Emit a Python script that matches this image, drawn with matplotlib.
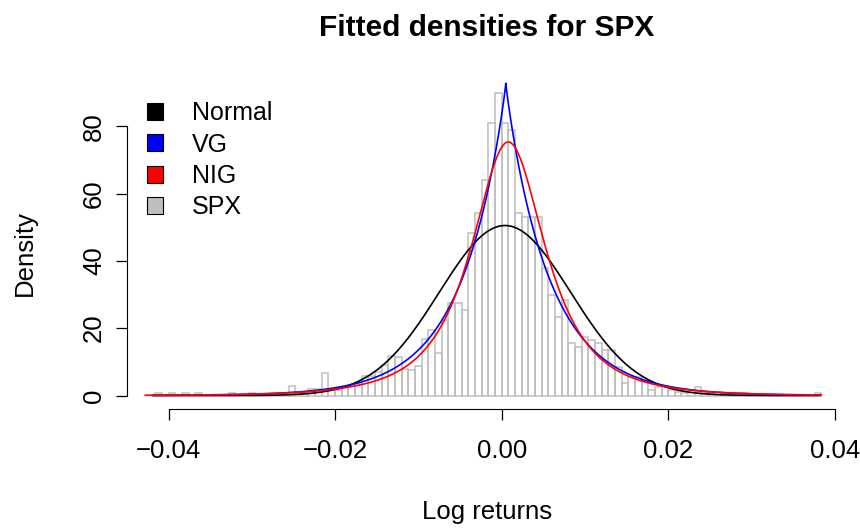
import math
import numpy as np
import matplotlib.pyplot as plt
from matplotlib.patches import Patch

plt.rcParams['font.family'] = ['Liberation Sans', 'DejaVu Sans']

# histogram of SPX log returns: breaks start and width, density per bin
break_lo = -0.0416
bin_w = 0.0008
dens = [0.8, 0, 0.8, 0, 0.8, 0, 0.8, 0, 0, 0,
        0, 0.8, 0, 0, 0.8, 0, 0, 0, 0, 0,
        2.8, 0.8, 0.8, 2.0, 2.0, 6.8, 1.5, 1.5, 2.6, 2.8,
        3.4, 5.8, 5.8, 7.0, 9.0, 11.8, 11.5, 7.8, 7.6, 8.8,
        16.7, 19.6, 12.5, 22.4, 27.6, 27.4, 25.4, 48.2, 54.1, 64.0,
        80.9, 89.8, 80.9, 78.9, 54.1, 53.1, 53.1, 53.1, 38.0, 30.0,
        23.4, 28.4, 15.5, 14.5, 17.5, 16.5, 15.5, 13.5, 13.5, 8.6,
        3.6, 5.6, 5.6, 4.6, 1.6, 2.6, 2.6, 1.6, 1.1, 0.6,
        0, 2.6, 0.8, 0.8, 0, 0.8, 0, 0, 0.8, 0,
        0, 0, 0, 0, 0, 0, 0, 0, 0, 0.8]

# fitted parameters
norm_mu, norm_sd = 0.0004, 0.0079
vg_lam, vg_alpha, vg_mu = 0.96, 175.0, 0.0005
nig_alpha, nig_delta, nig_mu = 95.0, 0.00593, 0.0008
x_rng = (-0.0419, 0.0382)
x_rng_nig = (-0.0428, 0.0384)


def besselk(nu, z):
    t = np.linspace(0, 30, 6001)
    f = np.exp(-np.outer(np.cosh(t), z)) * np.cosh(nu * t)[:, None]
    return np.trapezoid(f, t, axis=0)


def d_norm(x):
    return np.exp(-0.5 * ((x - norm_mu) / norm_sd) ** 2) / (norm_sd * np.sqrt(2 * np.pi))


def d_vg(x):
    a, lam = vg_alpha, vg_lam
    ax_ = np.maximum(np.abs(x - vg_mu), 1e-9)
    return (a ** (2 * lam) * ax_ ** (lam - 0.5) * besselk(lam - 0.5, a * ax_)
            / (np.sqrt(np.pi) * math.gamma(lam) * (2 * a) ** (lam - 0.5)))


def d_nig(x):
    a, d = nig_alpha, nig_delta
    r = np.sqrt(d ** 2 + (x - nig_mu) ** 2)
    return a * d * besselk(1.0, a * r) / (np.pi * r) * np.exp(d * a)


edges = break_lo + bin_w * np.arange(len(dens) + 1)
xs = np.linspace(x_rng[0], x_rng[1], 1501)
xs_vg = np.union1d(xs, [vg_mu])
xs_nig = np.linspace(x_rng_nig[0], x_rng_nig[1], 1501)

fig = plt.figure(figsize=(8.6, 5.31), dpi=100)
ax = fig.add_axes([127 / 860, 1 - 409 / 531, (848 - 127) / 860, (409 - 60) / 531])

ax.bar(edges[:-1], dens, width=bin_w, align='edge', fill=False,
       edgecolor='#BEBEBE', linewidth=1.1)
ax.plot(xs, d_norm(xs), color='black', lw=1.2)
ax.plot(xs_vg, d_vg(xs_vg), color='blue', lw=1.2)
ax.plot(xs_nig, d_nig(xs_nig), color='red', lw=1.2)

ax.set_xlim(-0.0450, 0.0416)
ax.set_ylim(-(409 - 395.5) / 3.366, (395.5 - 60) / 3.366)
for s in ['top', 'right']:
    ax.spines[s].set_visible(False)
ax.spines['bottom'].set_bounds(-0.04, 0.04)
ax.spines['left'].set_bounds(0, 80)
ax.set_xticks([-0.04, -0.02, 0.00, 0.02, 0.04])
ax.set_xticklabels(['\u22120.04', '\u22120.02', '0.00', '0.02', '0.04'])
ax.set_yticks([0, 20, 40, 60, 80])
ax.tick_params(labelsize=18.5, length=8, width=0.9)
ax.tick_params(axis='x', pad=13.5)
ax.tick_params(axis='y', pad=7)
for lab in ax.get_yticklabels():
    lab.set_rotation(90)
    lab.set_va('center')

fig.text(487 / 860, 1 - 28 / 531, 'Fitted densities for SPX', ha='center',
         va='center', fontsize=21.5, fontweight='bold')
fig.text(487 / 860, 1 - 512 / 531, 'Log returns', ha='center', va='center', fontsize=18.5)
fig.text(25 / 860, 1 - 253 / 531, 'Density', ha='center', va='center',
         fontsize=18.5, rotation=90)

handles = [Patch(facecolor=c, edgecolor='black', linewidth=0.8)
           for c in ['black', 'blue', 'red', '#BEBEBE']]
ax.legend(handles, ['Normal', 'VG', 'NIG', 'SPX'], loc='upper left',
          bbox_to_anchor=(147 / 860, 1 - 101 / 531), bbox_transform=fig.transFigure,
          frameon=False, fontsize=18, handlelength=0.65, handleheight=0.65,
          handletextpad=1.15, labelspacing=0.3, borderpad=0, borderaxespad=0)

fig.savefig('out.png', dpi=100)
